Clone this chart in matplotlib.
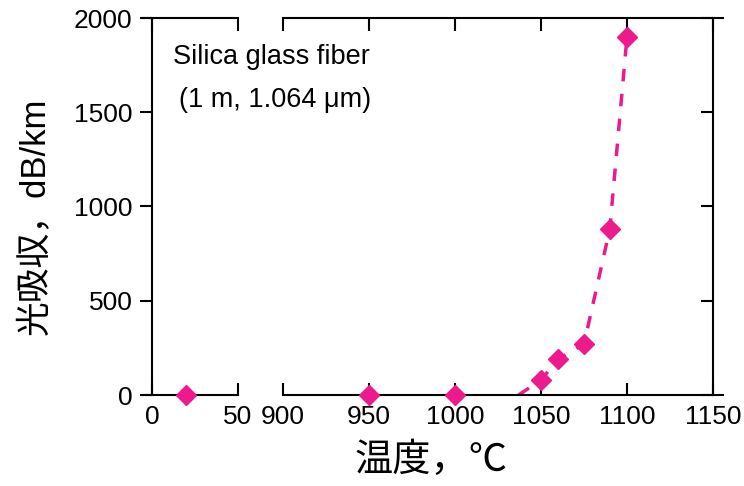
import matplotlib
matplotlib.use("Agg")
import matplotlib.pyplot as plt

plt.rcParams['font.family'] = ['Liberation Sans', 'Noto Sans CJK JP', 'DejaVu Sans']

# measured points (low temperature part and high temperature part)
low_x = [20]
low_y = [0]
high_x = [950, 1000, 1050, 1060, 1075, 1090, 1100]
high_y = [0, 0, 80, 190, 270, 880, 1900]
# dashed guide line
fit_x = [1037, 1050, 1060, 1075, 1090, 1100]
fit_y = [0, 80, 190, 270, 880, 1900]

pink = '#EC1A8C'

fig = plt.figure(figsize=(7.44, 4.86), dpi=100)
# 1.72 px per degree on both parts, 0 -> 152 px, 900 -> 283 px
ax1 = fig.add_axes([143.4/744, 91/486, 94.6/744, 377/486])
ax2 = fig.add_axes([283/744, 91/486, 440.3/744, 377/486])

for ax in (ax1, ax2):
    ax.set_ylim(0, 2000)
    ax.patch.set_visible(False)
    for s in ax.spines.values():
        s.set_linewidth(1.5)
    ax.tick_params(axis='x', direction='in', length=9, width=1.5, top=True,
                   labelsize=19, pad=7)
    ax.tick_params(axis='y', width=1.5, length=9, labelsize=19, pad=5)

# left part: 0-50
ax1.plot(low_x, low_y, 'D', color=pink, ms=10, clip_on=False, zorder=5)
ax1.set_xlim(-5, 50)
ax1.set_xticks([0, 50])
ax1.spines['left'].set_position(('data', 0))
ax1.spines['right'].set_visible(False)
ax1.set_yticks([0, 500, 1000, 1500, 2000])
ax1.tick_params(axis='y', direction='out')

# right part: 900-1150
ax2.plot(fit_x, fit_y, '--', color=pink, lw=2.5, dashes=(3.6, 3.6))
ax2.plot(high_x, high_y, 'D', color=pink, ms=10, clip_on=False, zorder=5)
ax2.set_xlim(900, 1156)
ax2.set_xticks([900, 950, 1000, 1050, 1100, 1150])
ax2.spines['left'].set_visible(False)
ax2.spines['right'].set_position(('data', 1150))
ax2.yaxis.tick_right()
ax2.set_yticks([0, 500, 1000, 1500, 2000])
ax2.tick_params(axis='y', direction='in', labelright=False)

fig.text(35/744, 1 - 216/486, '光吸収，dB/km', rotation=90, fontsize=25,
         ha='center', va='center')
fig.text(431/744, 1 - 461/486, '温度，℃', fontsize=27.5, ha='center', va='center')
fig.text(173/744, 1 - 57/486, 'Silica glass fiber', fontsize=19.5,
         ha='left', va='center')
fig.text(179/744, 1 - 100/486, '(1 m, 1.064 μm)', fontsize=19.5,
         ha='left', va='center')

fig.savefig('out.png', dpi=100)
